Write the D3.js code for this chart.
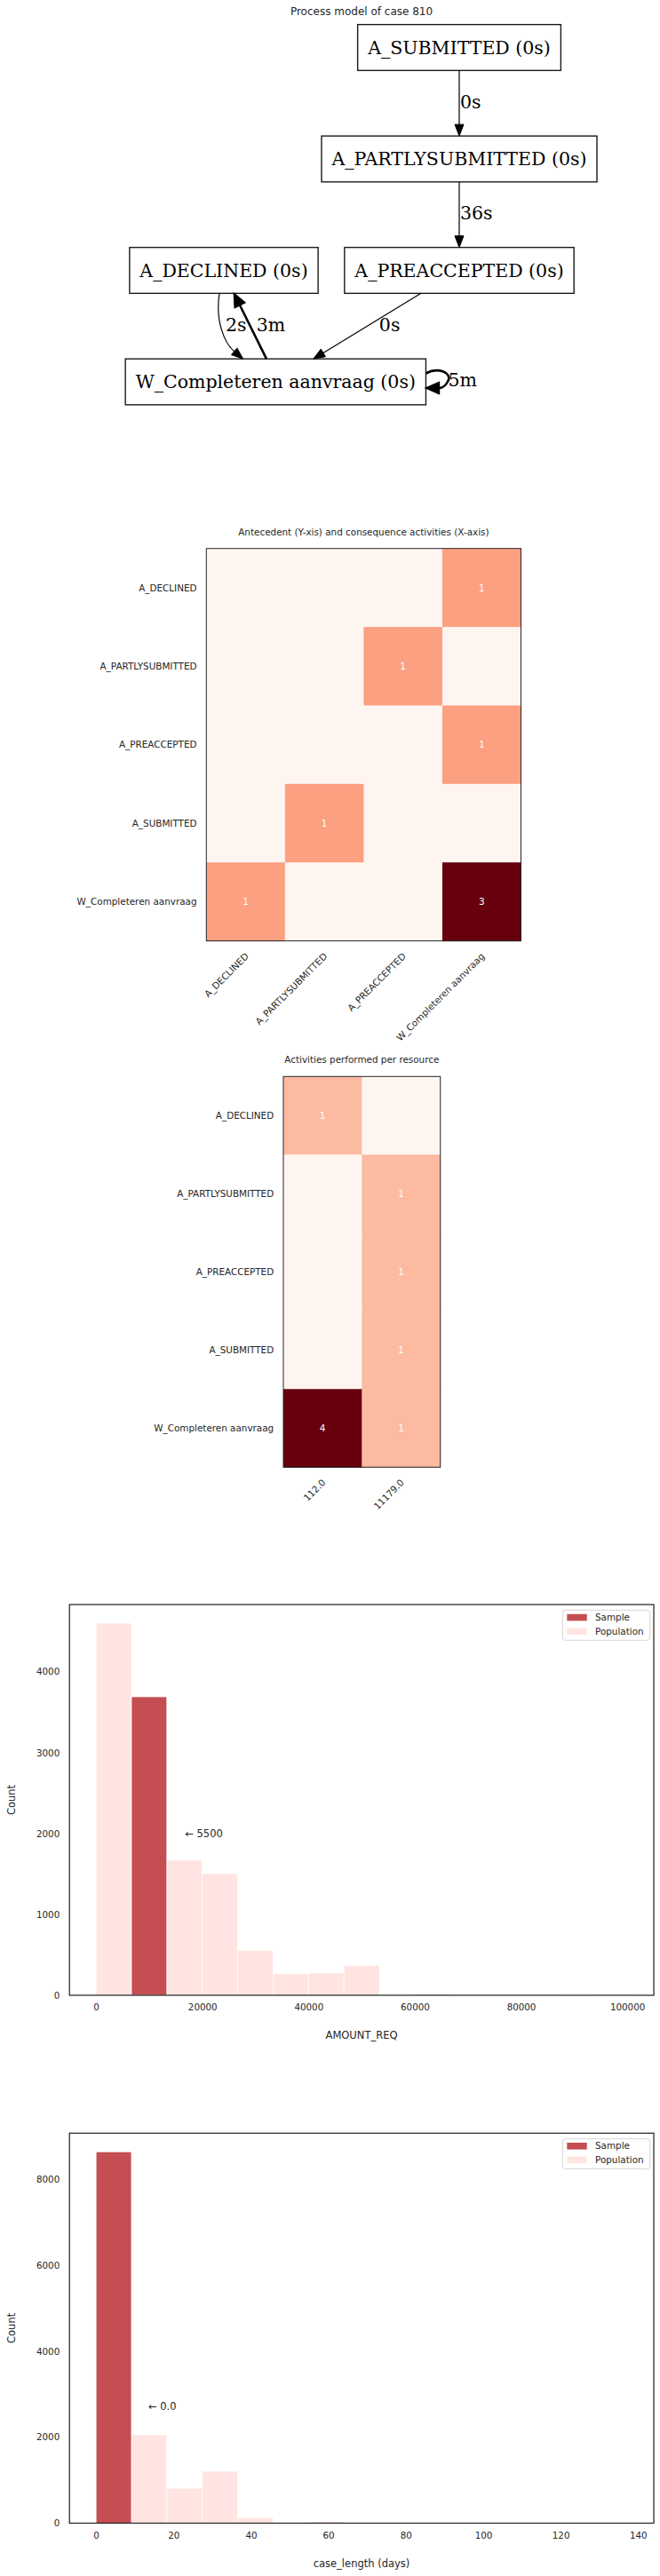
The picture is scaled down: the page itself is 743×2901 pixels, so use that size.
<!DOCTYPE html>
<html>
<head>
<meta charset="utf-8">
<title>Process model of case 810</title>
<script src="https://cdn.jsdelivr.net/npm/d3@7"></script>
<style>
  body { margin: 0; background: #fff; }
  svg { display: block; }
  text { font-family: "DejaVu Sans", sans-serif; fill: #262626; }
  .serif { font-family: "DejaVu Serif", serif; fill: #000; }
</style>
</head>
<body>
<svg id="chart" width="743" height="2901"></svg>
<script>
// ---------- data ----------
// process model
var nodeNames = ["A_SUBMITTED", "A_PARTLYSUBMITTED", "A_DECLINED", "A_PREACCEPTED", "W_Completeren aanvraag"];
var nodeDurations = ["0s", "0s", "0s", "0s", "0s"];
var nodeRanks = [0, 1, 2, 2, 3];
var nodeLanes = [1, 1, 0, 1, 0.22];
var edgeSources = [0, 1, 2, 4, 3, 4];
var edgeTargets = [1, 3, 4, 2, 4, 4];
var edgeLabels = ["0s", "36s", "2s", "3m", "0s", "5m"];
var edgeHeavy = [false, false, false, true, false, true];

// antecedent / consequence matrix
var antecedents = ["A_DECLINED", "A_PARTLYSUBMITTED", "A_PREACCEPTED", "A_SUBMITTED", "W_Completeren aanvraag"];
var consequences = ["A_DECLINED", "A_PARTLYSUBMITTED", "A_PREACCEPTED", "W_Completeren aanvraag"];
var transitionCounts = [
  [0, 0, 0, 1],
  [0, 0, 1, 0],
  [0, 0, 0, 1],
  [0, 1, 0, 0],
  [1, 0, 0, 3]
];

// activities per resource
var activities = ["A_DECLINED", "A_PARTLYSUBMITTED", "A_PREACCEPTED", "A_SUBMITTED", "W_Completeren aanvraag"];
var resources = ["112.0", "11179.0"];
var resourceCounts = [
  [1, 0],
  [0, 1],
  [0, 1],
  [0, 1],
  [4, 1]
];

// AMOUNT_REQ histogram (15 bins over 0..100000)
var amountRange = [0, 100000];
var amountPopulation = [4600, 3690, 1670, 1505, 558, 264, 275, 371, 0, 22, 11, 4, 2, 1, 2];
var amountSample = [0, 3690, 0, 0, 0, 0, 0, 0, 0, 0, 0, 0, 0, 0, 0];
var amountTicksX = [0, 20000, 40000, 60000, 80000, 100000];
var amountTicksY = [0, 1000, 2000, 3000, 4000];
var amountValue = "5500";

// case_length histogram (15 bins over 0..137.2 days)
var lengthRange = [0, 137.2];
var lengthPopulation = [8634, 2055, 814, 1207, 131, 21, 41, 5, 3, 2, 1, 1, 0, 0, 1];
var lengthSample = [8634, 0, 0, 0, 0, 0, 0, 0, 0, 0, 0, 0, 0, 0, 0];
var lengthTicksX = [0, 20, 40, 60, 80, 100, 120, 140];
var lengthTicksY = [0, 2000, 4000, 6000, 8000];
var lengthValue = "0.0";

var svg = d3.select("#chart");

// ---------- process model ----------
var graph = svg.append("g");
graph.append("text")
  .attr("x", 407).attr("y", 17)
  .attr("text-anchor", "middle")
  .style("font-size", "12px")
  .text("Process model of case 810");

var rankY = d3.scaleLinear().domain([0, 3]).range([53.5, 430]);
var laneX = d3.scaleLinear().domain([0, 1]).range([252, 517]);
var nodeH = 51.7;

var nodes = nodeNames.map(function(n, i) {
  return { name: n, label: n + " (" + nodeDurations[i] + ")", cx: laneX(nodeLanes[i]), cy: rankY(nodeRanks[i]) };
});

var nodeG = graph.selectAll("g.node").data(nodes).enter().append("g").attr("class", "node");
nodeG.append("text")
  .attr("class", "serif")
  .attr("x", function(d) { return d.cx; })
  .attr("y", function(d) { return d.cy + 7; })
  .attr("text-anchor", "middle")
  .style("font-size", "20.5px")
  .text(function(d) { return d.label; })
  .each(function(d) { d.w = this.getComputedTextLength() + 23; });
nodeG.insert("rect", "text")
  .attr("x", function(d) { return d.cx - d.w / 2; })
  .attr("y", function(d) { return d.cy - nodeH / 2; })
  .attr("width", function(d) { return d.w; })
  .attr("height", nodeH)
  .attr("fill", "#fff")
  .attr("stroke", "#1a1a1a")
  .attr("stroke-width", 1.4);

// edge ports as fractions of the half widths, label offsets
var edgeLayout = [
  { src: 0, tgt: 0, dx: 1 },
  { src: 0, tgt: 0, dx: 1 },
  { src: -0.047, tgt: -0.217, dx: -6.4, curve: true },
  { src: -0.061, tgt: 0.107, dx: 7 },
  { src: -0.333, tgt: 0.251, dx: 13.5 },
  { loop: true }
];

function arrowHead(tip, dir, heavy) {
  var len = heavy ? 15 : 13, hw = heavy ? 6.5 : 5;
  var bx = tip[0] - dir[0] * len, by = tip[1] - dir[1] * len;
  var px = -dir[1] * hw, py = dir[0] * hw;
  return { base: [bx, by], pts: [[tip[0], tip[1]], [bx + px, by + py], [bx - px, by - py]] };
}

edgeSources.forEach(function(s, i) {
  var a = nodes[s], b = nodes[edgeTargets[i]], L = edgeLayout[i], heavy = edgeHeavy[i];
  var pen = heavy ? 2.6 : 1.2;
  var path, head, lx, ly;
  if (L.loop) {
    var xr = a.cx + a.w / 2, cy = a.cy;
    head = arrowHead([xr, cy + 7], [-1, 0], heavy);
    var bs = head.base;
    path = "M" + xr + "," + (cy - 9.5) +
      "C" + (xr + 14) + "," + (cy - 17) + " " + (xr + 30) + "," + (cy - 10) + " " + (xr + 25) + "," + (cy - 1) +
      "C" + (xr + 23) + "," + (cy + 3) + " " + (bs[0] + 4) + "," + bs[1] + " " + bs[0] + "," + bs[1];
    lx = xr + 25; ly = cy + 5;
  } else {
    var down = a.cy < b.cy;
    var S = [a.cx + L.src * a.w / 2, down ? a.cy + nodeH / 2 : a.cy - nodeH / 2];
    var T = [b.cx + L.tgt * b.w / 2, down ? b.cy - nodeH / 2 : b.cy + nodeH / 2];
    var dir;
    if (L.curve) {
      dir = [0.762, 0.648];
    } else {
      var dl = Math.hypot(T[0] - S[0], T[1] - S[1]);
      dir = [(T[0] - S[0]) / dl, (T[1] - S[1]) / dl];
    }
    head = arrowHead(T, dir, heavy);
    var B = head.base;
    if (L.curve) {
      path = "M" + S[0] + "," + S[1] + "C" + (S[0] - 5) + "," + (S[1] + 32) + " " +
        (B[0] - 14 * dir[0]) + "," + (B[1] - 14 * dir[1]) + " " + B[0] + "," + B[1];
    } else {
      path = "M" + S[0] + "," + S[1] + "L" + B[0] + "," + B[1];
    }
    lx = (S[0] + T[0]) / 2 + L.dx;
    ly = (S[1] + T[1]) / 2 + 5.5;
  }
  graph.append("path").attr("d", path).attr("fill", "none")
    .attr("stroke", "#000").attr("stroke-width", pen);
  graph.append("polygon").attr("points", head.pts.map(function(p) { return p.join(","); }).join(" "))
    .attr("fill", "#000").attr("stroke", "#000").attr("stroke-width", heavy ? 1.5 : 1);
  graph.append("text").attr("class", "serif")
    .attr("x", lx).attr("y", ly)
    .style("font-size", "20.5px")
    .text(edgeLabels[i]);
});

// ---------- heatmaps ----------
function heatmap(o) {
  var g = svg.append("g");
  var x = d3.scaleBand().domain(o.cols).range([o.x0, o.x1]);
  var y = d3.scaleBand().domain(o.rows).range([o.y0, o.y1]);
  var max = d3.max(o.values, function(r) { return d3.max(r); });
  var color = d3.scaleSequential(d3.interpolateReds).domain([0, max]);
  var cells = [];
  o.values.forEach(function(r, i) {
    r.forEach(function(v, j) { cells.push({ row: o.rows[i], col: o.cols[j], v: v }); });
  });
  g.selectAll("rect.cell").data(cells).enter().append("rect")
    .attr("x", function(d) { return x(d.col); })
    .attr("y", function(d) { return y(d.row); })
    .attr("width", x.bandwidth() + 0.5)
    .attr("height", y.bandwidth() + 0.5)
    .attr("fill", function(d) { return color(d.v); });
  g.selectAll("text.val").data(cells.filter(function(d) { return d.v > 0; })).enter().append("text")
    .attr("x", function(d) { return x(d.col) + x.bandwidth() / 2; })
    .attr("y", function(d) { return y(d.row) + y.bandwidth() / 2; })
    .attr("dy", "0.35em")
    .attr("text-anchor", "middle")
    .style("font-size", "10.4px")
    .style("fill", "#fff")
    .text(function(d) { return d.v; });
  g.append("rect")
    .attr("x", o.x0).attr("y", o.y0)
    .attr("width", o.x1 - o.x0).attr("height", o.y1 - o.y0)
    .attr("fill", "none").attr("stroke", "#262626").attr("stroke-width", 1);
  g.selectAll("text.rowlab").data(o.rows).enter().append("text")
    .attr("x", o.x0 - 10.8)
    .attr("y", function(d) { return y(d) + y.bandwidth() / 2; })
    .attr("dy", "0.35em")
    .attr("text-anchor", "end")
    .style("font-size", "10.4px")
    .text(function(d) { return d; });
  g.selectAll("text.collab").data(o.cols).enter().append("text")
    .attr("transform", function(d) {
      return "translate(" + (x(d) + x.bandwidth() / 2 + 4) + "," + (o.y1 + 18) + ") rotate(-45)";
    })
    .attr("text-anchor", "end")
    .style("font-size", "10.4px")
    .text(function(d) { return d; });
  g.append("text")
    .attr("x", (o.x0 + o.x1) / 2).attr("y", o.y0 - 15)
    .attr("text-anchor", "middle")
    .style("font-size", "10.4px")
    .text(o.title);
}

heatmap({
  title: "Antecedent (Y-xis) and consequence activities (X-axis)",
  rows: antecedents, cols: consequences, values: transitionCounts,
  x0: 232.3, x1: 586.5, y0: 617.7, y1: 1059.6
});
heatmap({
  title: "Activities performed per resource",
  rows: activities, cols: resources, values: resourceCounts,
  x0: 319, x1: 495.7, y0: 1212.3, y1: 1652.3
});

// ---------- histograms ----------
function histogram(o) {
  var g = svg.append("g");
  var n = o.population.length;
  var span = o.range[1] - o.range[0];
  var x = d3.scaleLinear().domain([o.range[0] - 0.05 * span, o.range[1] + 0.05 * span]).range([78.2, 736]);
  var ymax = d3.max(o.population.concat(o.sample)) * 1.05;
  var y = d3.scaleLinear().domain([0, ymax]).range([o.bottom, o.top]);
  var edges = d3.range(n + 1).map(function(i) { return o.range[0] + span * i / n; });

  function bars(vals, fill, cls) {
    g.selectAll("rect." + cls).data(vals).enter().append("rect")
      .attr("class", cls)
      .attr("x", function(d, i) { return x(edges[i]); })
      .attr("width", function(d, i) { return x(edges[i + 1]) - x(edges[i]); })
      .attr("y", function(d) { return y(d); })
      .attr("height", function(d) { return o.bottom - y(d); })
      .attr("fill", fill)
      .attr("stroke", "#fff").attr("stroke-width", 0.8)
      .style("display", function(d) { return d > 0 ? null : "none"; });
  }
  bars(o.population, "#ffe4e1", "pop");
  bars(o.sample, "#c44e52", "smp");

  var xa = g.append("g").attr("transform", "translate(0," + o.bottom + ")")
    .call(d3.axisBottom(x).tickValues(o.ticksX).tickSize(0).tickPadding(10).tickFormat(d3.format("d")));
  var ya = g.append("g").attr("transform", "translate(78.2,0)")
    .call(d3.axisLeft(y).tickValues(o.ticksY).tickSize(0).tickPadding(11).tickFormat(d3.format("d")));
  [xa, ya].forEach(function(a) {
    a.select(".domain").remove();
    a.selectAll("text").style("font-size", "10.3px").style("font-family", "DejaVu Sans").attr("fill", "#262626");
  });

  g.append("rect")
    .attr("x", 78.2).attr("y", o.top)
    .attr("width", 736 - 78.2).attr("height", o.bottom - o.top)
    .attr("fill", "none").attr("stroke", "#262626").attr("stroke-width", 1.25);

  g.append("text")
    .attr("x", x(o.note[0])).attr("y", y(o.note[1]))
    .attr("dy", "0.35em")
    .style("font-size", "11.5px")
    .text("\u2190 " + o.value);

  g.append("text")
    .attr("x", 407).attr("y", o.bottom + 49)
    .attr("text-anchor", "middle")
    .style("font-size", "11.5px")
    .text(o.xlabel);
  g.append("text")
    .attr("transform", "translate(17," + (o.top + o.bottom) / 2 + ") rotate(-90)")
    .attr("text-anchor", "middle")
    .style("font-size", "11.5px")
    .text("Count");

  var lg = g.append("g").attr("transform", "translate(633.3," + (o.top + 6.3) + ")");
  lg.append("rect").attr("width", 98.4).attr("height", 34).attr("rx", 3)
    .attr("fill", "#fff").attr("fill-opacity", 0.8).attr("stroke", "#cccccc").attr("stroke-width", 0.8);
  var items = [["Sample", "#c44e52"], ["Population", "#ffe4e1"]];
  items.forEach(function(it, i) {
    lg.append("rect").attr("x", 5).attr("y", 4.4 + i * 15.6).attr("width", 22.4).attr("height", 7.6).attr("fill", it[1]);
    lg.append("text").attr("x", 36.7).attr("y", 8.2 + i * 15.6).attr("dy", "0.35em")
      .style("font-size", "10.4px").text(it[0]);
  });
}

histogram({
  range: amountRange, population: amountPopulation, sample: amountSample,
  ticksX: amountTicksX, ticksY: amountTicksY, value: amountValue,
  note: [16750, 2000], xlabel: "AMOUNT_REQ", top: 1807, bottom: 2247
});
histogram({
  range: lengthRange, population: lengthPopulation, sample: lengthSample,
  ticksX: lengthTicksX, ticksY: lengthTicksY, value: lengthValue,
  note: [13.5, 2720], xlabel: "case_length (days)", top: 2402.3, bottom: 2841.5
});
</script>
</body>
</html>
